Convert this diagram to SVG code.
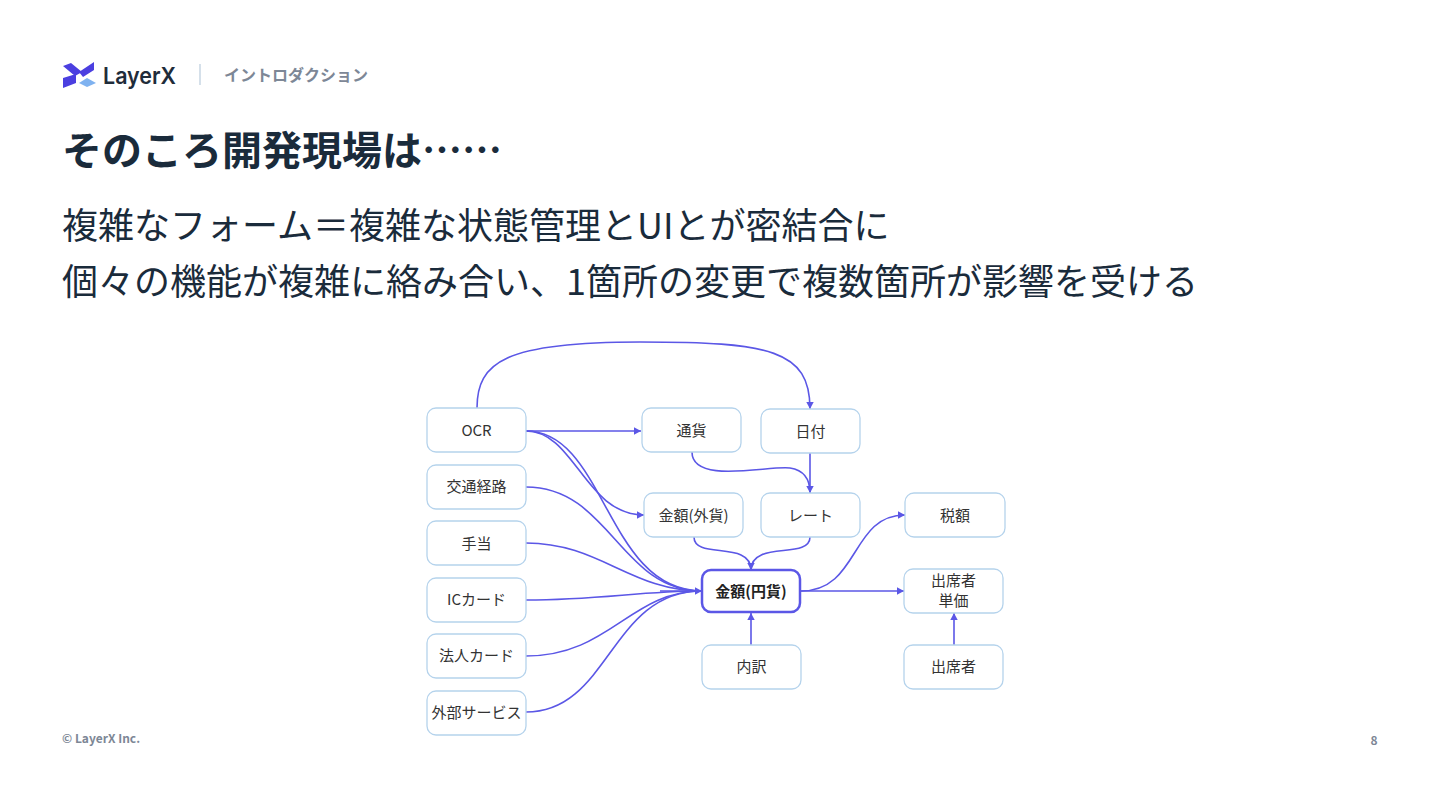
<svg xmlns="http://www.w3.org/2000/svg" width="1440" height="810" viewBox="0 0 1440 810">
<style>
text{font-family:"Noto Sans CJK JP","Noto Sans",sans-serif}
.n{fill:#fff;stroke:#b5d3ec;stroke-width:1.3}
.t{font-size:15px;fill:#333;text-anchor:middle}
.c{fill:none;stroke:#5b57e6;stroke-width:1.6}
.a{marker-end:url(#ah)}
</style>
<defs><marker id="ah" markerUnits="userSpaceOnUse" markerWidth="9" markerHeight="10" refX="7" refY="5" orient="auto"><path d="M0 1.300L7 5L0 8.700Z" fill="#5b57e6"/></marker></defs>
<rect width="1440" height="810" fill="#fff"/>
<g id="logo">
<path d="M63 66L71 63L82 72L75 76Z M94 62V70L83 77L79 72Z M63 78L76 74V83L63 88Z" fill="#4b3fe0"/>
<path d="M87 78L96 83L87 87L79 83Z" fill="#7fb2f0"/>
<text x="103" y="84" font-size="23" fill="#1f2c3a" style="font-family:'Inter',sans-serif" font-weight="600" textLength="73" lengthAdjust="spacingAndGlyphs">LayerX</text>
</g>
<rect x="199" y="64" width="2" height="21" fill="#d5e0ea"/>
<text x="224" y="81" font-size="16" font-weight="700" fill="#7d8796">イントロダクション</text>
<text x="62" y="165" font-size="40" font-weight="700" fill="#1a2b3b">そのころ開発現場は……</text>
<text x="62" y="239" font-size="36" fill="#1a2b3b">複雑なフォーム＝複雑な状態管理とUIとが密結合に</text>
<text x="62" y="295" font-size="36" fill="#1a2b3b">個々の機能が複雑に絡み合い、1箇所の変更で複数箇所が影響を受ける</text>
<text x="62" y="743" font-size="12" font-weight="700" fill="#7d8796">© LayerX Inc.</text>
<text x="1374" y="745" font-size="12" font-weight="700" fill="#7d8796" text-anchor="middle">8</text>
<g id="connectors">
<path class="c a" d="M477 408C477 362 505 342 640 342C770 342 810 350 810 409"/>
<path class="c a" d="M526 431H641"/>
<path class="c a" d="M526 431C575 431 585 515 644 515"/>
<path class="c" d="M526 431C606 431 606 591 702 591"/>
<path class="c" d="M526 487C610 487 620 591 702 591"/>
<path class="c" d="M526 543C600 543 630 591 702 591"/>
<path class="c" d="M526 600C600 600 640 591 702 591"/>
<path class="c" d="M526 656C610 656 630 591 702 591"/>
<path class="c" d="M526 712C610 712 610 591 702 591"/>
<path class="c" d="M692 452C692 485 770 465 790 468C803 470 810 478 810 493"/>
<path class="c a" d="M810 453V493"/>
<path class="c" d="M694 537C694 560 751 540 751 570"/>
<path class="c a" d="M810 537C810 560 751 540 751 570"/>
<path class="c a" d="M801 591H904"/>
<path class="c a" d="M801 591C860 591 850 515 905 515"/>
<path class="c a" d="M751 645V613"/>
<path class="c a" d="M954 645V613"/>
<path class="c a" d="M660 591H702"/>
</g>
<g id="n-ocr"><rect class="n" x="427" y="408" width="99" height="44" rx="9"/><text class="t" x="476.500" y="436">OCR</text></g>
<g id="n-kotsu"><rect class="n" x="427" y="465" width="99" height="44" rx="9"/><text class="t" x="476.500" y="492">交通経路</text></g>
<g id="n-teate"><rect class="n" x="427" y="521" width="99" height="44" rx="9"/><text class="t" x="476.500" y="549">手当</text></g>
<g id="n-ic"><rect class="n" x="427" y="578" width="99" height="44" rx="9"/><text class="t" x="476.500" y="605">ICカード</text></g>
<g id="n-hojin"><rect class="n" x="427" y="634" width="99" height="44" rx="9"/><text class="t" x="476.500" y="661">法人カード</text></g>
<g id="n-gaibu"><rect class="n" x="427" y="691" width="99" height="44" rx="9"/><text class="t" x="476.500" y="718">外部サービス</text></g>
<g id="n-tsuka"><rect class="n" x="642" y="408" width="99" height="44" rx="9"/><text class="t" x="691.500" y="436">通貨</text></g>
<g id="n-hiduke"><rect class="n" x="761" y="409" width="99" height="44" rx="9"/><text class="t" x="810.500" y="437">日付</text></g>
<g id="n-gaika"><rect class="n" x="644" y="493" width="99" height="44" rx="9"/><text class="t" x="693.500" y="521">金額(外貨)</text></g>
<g id="n-rate"><rect class="n" x="761" y="493" width="99" height="44" rx="9"/><text class="t" x="810.500" y="521">レート</text></g>
<g id="n-zei"><rect class="n" x="905" y="493" width="100" height="44" rx="9"/><text class="t" x="955" y="521">税額</text></g>
<g id="n-yen"><rect x="702" y="570" width="98" height="42" rx="9" fill="#fff" stroke="#5b57e6" stroke-width="2.500"/><text class="t" x="751" y="597" font-weight="700" style="fill:#222">金額(円貨)</text></g>
<g id="n-tanka"><rect class="n" x="904" y="569" width="99" height="44" rx="9"/><text class="t" x="953.500" y="586">出席者</text><text class="t" x="953.500" y="606">単価</text></g>
<g id="n-uchiwake"><rect class="n" x="702" y="645" width="99" height="44" rx="9"/><text class="t" x="751.500" y="672">内訳</text></g>
<g id="n-shusseki"><rect class="n" x="904" y="645" width="99" height="44" rx="9"/><text class="t" x="953.500" y="672">出席者</text></g>
</svg>
